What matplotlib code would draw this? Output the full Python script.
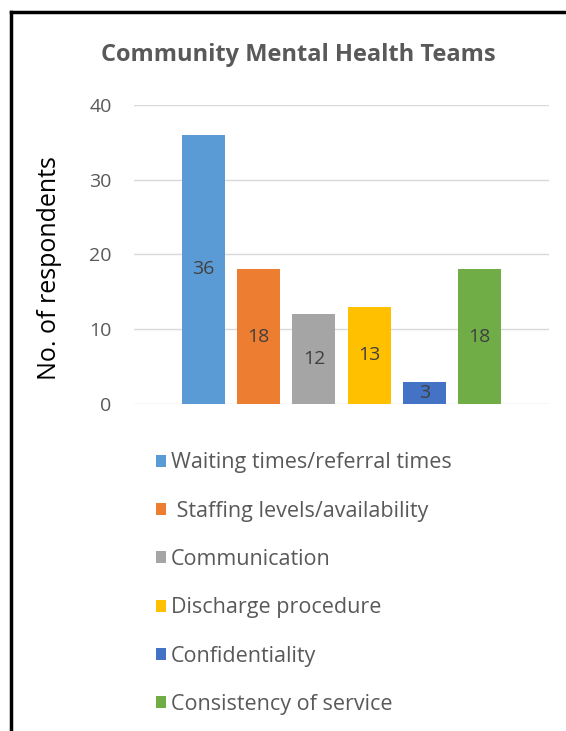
import matplotlib.pyplot as plt
from matplotlib.patches import Patch
from matplotlib.lines import Line2D

categories = ["Waiting times/referral times", " Staffing levels/availability",
              "Communication", "Discharge procedure", "Confidentiality",
              "Consistency of service"]
values = [36, 18, 12, 13, 3, 18]
colors = ["#5B9BD5", "#ED7D31", "#A5A5A5", "#FFC000", "#4472C4", "#70AD47"]
yticks = [0, 10, 20, 30, 40]

plt.rcParams["font.family"] = ["Open Sans", "DejaVu Sans"]
grey = "#595959"

fig = plt.figure(figsize=(5.66, 7.31), dpi=100)
ax = fig.add_axes([0.2367, 0.4473, 0.7333, 0.4091])

x = list(range(len(values)))
bars = ax.bar(x, values, width=0.78, color=colors, zorder=3)
for rect, v in zip(bars, values):
    ax.text(rect.get_x() + rect.get_width() / 2, v / 2, str(v), ha="center", va="center",
            fontsize=14, color="#404040", zorder=4)

ax.set_xlim(-1.26, 6.26)
ax.set_ylim(0, 40)
ax.set_yticks(yticks)
ax.set_xticks([])
ax.grid(axis="y", color="#D9D9D9", linewidth=1, zorder=0)
for s in ax.spines.values():
    s.set_visible(False)
ax.tick_params(axis="y", length=0, labelsize=14, labelcolor=grey, pad=16)
ax.set_ylabel("No. of respondents", fontsize=18, color="black")
ax.yaxis.set_label_coords(-0.1735, 0.455)

fig.text(0.527, 0.925, "Community Mental Health Teams", ha="center", va="center",
         fontsize=17, fontweight="bold", color=grey)

handles = [Patch(facecolor=c) for c in colors]
fig.legend(handles, categories, loc="upper left", bbox_to_anchor=(0.257, 0.396),
           frameon=False, fontsize=15.5, labelcolor=grey, handlelength=0.47,
           handleheight=0.47, handletextpad=0.2, labelspacing=1.27, borderpad=0)

# outer frame
fig.add_artist(Line2D([0.0195, 0.0195], [0, 0.983], color="black", linewidth=2.5,
                      transform=fig.transFigure))
fig.add_artist(Line2D([0.0195, 1.0], [0.983, 0.983], color="black", linewidth=2.5,
                      transform=fig.transFigure))

fig.savefig("out.png", dpi=100)
